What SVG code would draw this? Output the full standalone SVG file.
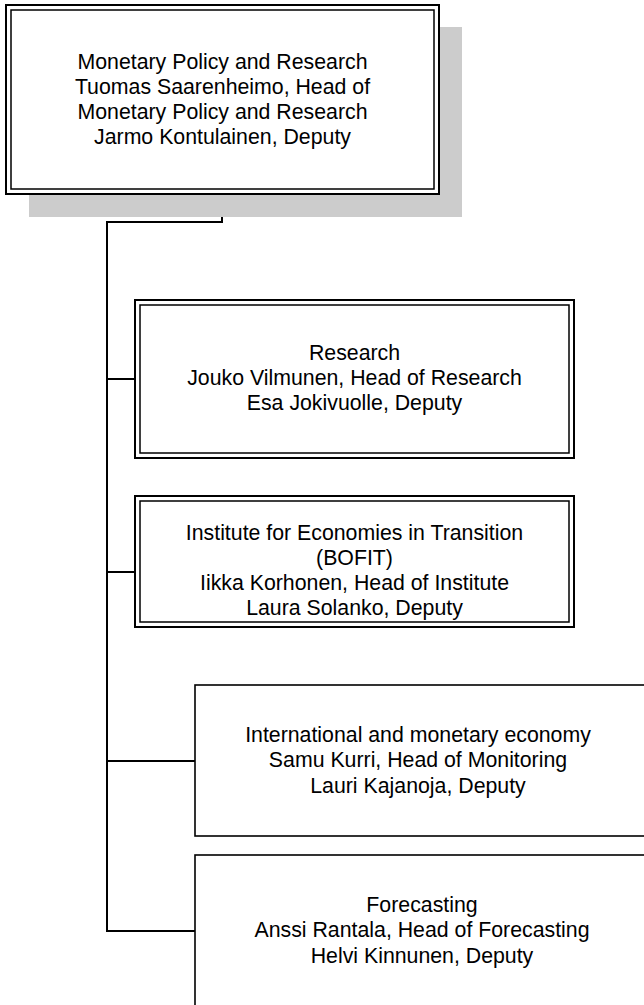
<svg xmlns="http://www.w3.org/2000/svg" width="644" height="1005" viewBox="0 0 644 1005">
<style>
text{font-family:"Liberation Sans",Arial,sans-serif;font-size:21.3px;fill:#000;text-anchor:middle}
.outer{fill:#fff;stroke:#000;stroke-width:2}
.inner{fill:none;stroke:#000;stroke-width:1.5}
.single{fill:#fff;stroke:#000;stroke-width:1.6}
.conn{fill:none;stroke:#000;stroke-width:2}
</style>
<rect width="644" height="1005" fill="#fff"/>
<g id="connectors">
<polyline class="conn" points="222,194 222,222 107,222 107,931 195,931"/>
<line class="conn" x1="107" y1="379" x2="135" y2="379"/>
<line class="conn" x1="107" y1="572" x2="135" y2="572"/>
<line class="conn" x1="107" y1="761" x2="195" y2="761"/>
</g>
<g id="node-monetary-policy">
<rect x="29" y="27" width="433" height="190" fill="#cccccc"/>
<rect class="outer" x="6" y="5" width="433" height="189"/>
<rect class="inner" x="11" y="10" width="423" height="179"/>
<text x="222.5" y="68.5">Monetary Policy and Research</text>
<text x="222.5" y="93.5">Tuomas Saarenheimo, Head of</text>
<text x="222.5" y="118.5">Monetary Policy and Research</text>
<text x="222.5" y="143.5">Jarmo Kontulainen, Deputy</text>
</g>
<g id="node-research">
<rect class="outer" x="135" y="300" width="439" height="158"/>
<rect class="inner" x="140" y="305" width="429" height="148"/>
<text x="354.5" y="360">Research</text>
<text x="354.5" y="385">Jouko Vilmunen, Head of Research</text>
<text x="354.5" y="410">Esa Jokivuolle, Deputy</text>
</g>
<g id="node-bofit">
<rect class="outer" x="135" y="496" width="439" height="131"/>
<rect class="inner" x="140" y="501" width="429" height="121"/>
<text x="354.5" y="540">Institute for Economies in Transition</text>
<text x="354.5" y="565">(BOFIT)</text>
<text x="354.5" y="590">Iikka Korhonen, Head of Institute</text>
<text x="354.5" y="615">Laura Solanko, Deputy</text>
</g>
<g id="node-international">
<rect class="single" x="195" y="685" width="460" height="151"/>
<text x="418" y="742">International and monetary economy</text>
<text x="418" y="767">Samu Kurri, Head of Monitoring</text>
<text x="418" y="793">Lauri Kajanoja, Deputy</text>
</g>
<g id="node-forecasting">
<rect class="single" x="195" y="855" width="460" height="170"/>
<text x="422" y="912">Forecasting</text>
<text x="422" y="937">Anssi Rantala, Head of Forecasting</text>
<text x="422" y="963">Helvi Kinnunen, Deputy</text>
</g>
</svg>
